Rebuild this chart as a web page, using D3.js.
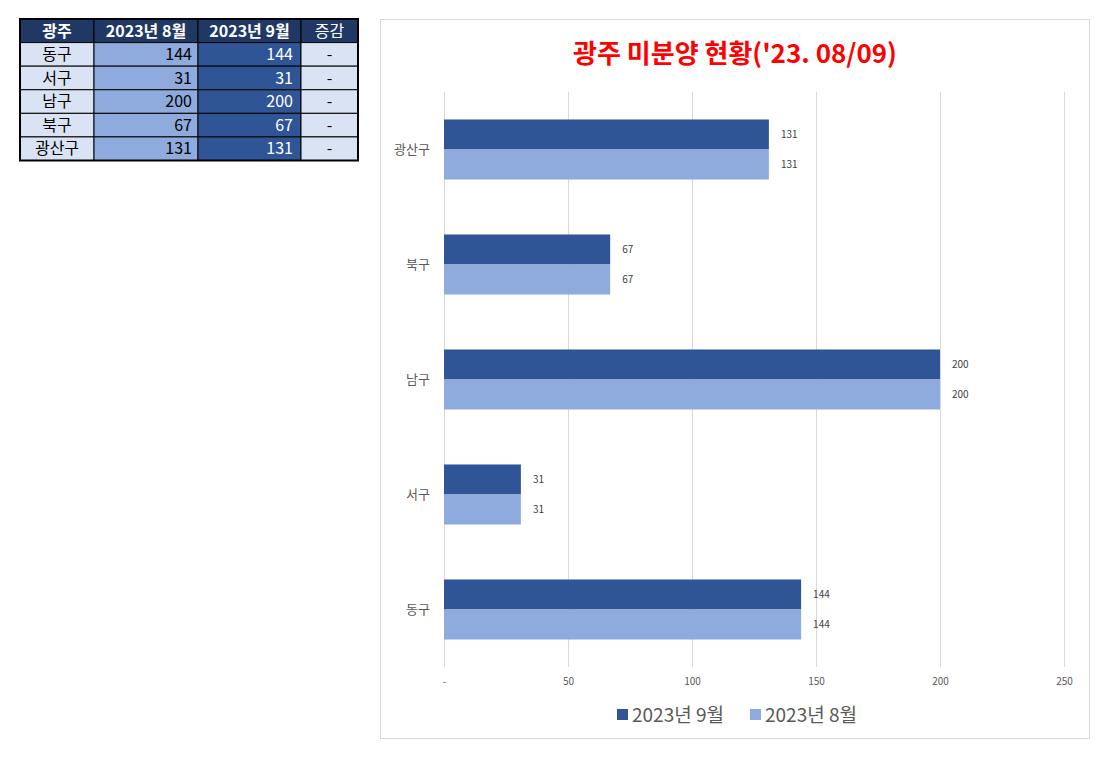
<!DOCTYPE html>
<html><head><meta charset="utf-8">
<script src="https://cdn.jsdelivr.net/npm/d3@7"></script>
<style>
body{margin:0;background:#fff;font-family:"Noto Sans CJK KR","Noto Sans",sans-serif;}
</style></head>
<body><svg id="c" width="1108" height="758"></svg>
<script>
const districts = ["동구","서구","남구","북구","광산구"];
const aug2023 = [144,31,200,67,131];
const sep2023 = [144,31,200,67,131];
const changes = ["-","-","-","-","-"];
const tableHeaders = ["광주","2023년 8월","2023년 9월","증감"];
const seriesNames = ["2023년 9월","2023년 8월"];
const xTicks = [0,50,100,150,200,250];
const titleText = "광주 미분양 현황('23. 08/09)";

const svg = d3.select("#c");
const font = '"Noto Sans CJK KR","Noto Sans",sans-serif';
const cSep = "#2f5597", cAug = "#8faadc", cHead = "#1f3864", cLight = "#dae3f3";

// ---- Table ----
const colX = [20,94,198,301,358];
const rowY = d3.scaleLinear().domain([0,6]).range([19,160.5]);
const tg = svg.append("g");
const rows = [tableHeaders].concat(districts.map((d,i)=>[d, aug2023[i], sep2023[i], changes[i]]));
rows.forEach((r,ri)=>{
  r.forEach((v,ci)=>{
    const x0=colX[ci], x1=colX[ci+1], y0=rowY(ri), y1=rowY(ri+1);
    let fill, color="#000", weight="normal", anchor="middle", tx=(x0+x1)/2;
    if(ri===0){fill=cHead;color="#fff";weight= ci===3?"normal":"bold";}
    else if(ci===1){fill=cAug;anchor="end";tx=x1-6;}
    else if(ci===2){fill=cSep;color="#fff";anchor="end";tx=x1-8;}
    else fill=cLight;
    tg.append("rect").attr("x",x0).attr("y",y0).attr("width",x1-x0).attr("height",y1-y0)
      .attr("fill",fill).attr("stroke","#000").attr("stroke-width",1);
    tg.append("text").attr("x",tx).attr("y",(y0+y1)/2).attr("dy","0.36em")
      .attr("text-anchor",anchor).attr("font-family",font).attr("font-size",16)
      .attr("font-weight",weight).attr("fill",color).text(v);
  });
});
tg.append("rect").attr("x",20).attr("y",19).attr("width",338).attr("height",141.5)
  .attr("fill","none").attr("stroke","#000").attr("stroke-width",2);

// ---- Chart ----
svg.append("rect").attr("x",380.5).attr("y",19.5).attr("width",709).attr("height",719)
  .attr("fill","#fff").attr("stroke","#d9d9d9");
svg.append("text").attr("x",735).attr("y",63).attr("text-anchor","middle")
  .attr("font-family",font).attr("font-size",26).attr("font-weight","bold").attr("fill","#ff0000")
  .text(titleText);

const x = d3.scaleLinear().domain([0,250]).range([444,1064]);
const y = d3.scaleBand().domain(districts.slice().reverse()).range([92,667]).paddingInner(0.478).paddingOuter(0.239);
const ySub = d3.scaleBand().domain(seriesNames).range([0,y.bandwidth()]);

svg.append("g").selectAll("line").data(xTicks).join("line")
  .attr("x1",d=>x(d)+0.5).attr("x2",d=>x(d)+0.5).attr("y1",92).attr("y2",667)
  .attr("stroke","#d9d9d9").attr("stroke-width",1);

const xAxis = d3.axisBottom(x).tickValues(xTicks).tickSize(0).tickFormat(d=>d===0?"-":d);
const xa = svg.append("g").attr("transform","translate(0,675)").call(xAxis);
xa.select(".domain").remove();
xa.selectAll("text").attr("font-family",font).attr("font-size",10).attr("fill","#595959");

const yAxis = d3.axisLeft(y).tickSize(0).tickPadding(14);
const ya = svg.append("g").attr("transform","translate(444,0)").call(yAxis);
ya.select(".domain").remove();
ya.selectAll("text").attr("font-family",font).attr("font-size",13).attr("fill","#595959");

const series = [{name:seriesNames[0],vals:sep2023,color:cSep},{name:seriesNames[1],vals:aug2023,color:cAug}];
series.forEach(s=>{
  const g = svg.append("g");
  g.selectAll("rect").data(districts).join("rect")
    .attr("x",x(0)).attr("y",d=>y(d)+ySub(s.name))
    .attr("width",(d,i)=>x(s.vals[districts.indexOf(d)])-x(0))
    .attr("height",ySub.bandwidth()).attr("fill",s.color);
  g.selectAll("text").data(districts).join("text")
    .attr("x",d=>x(s.vals[districts.indexOf(d)])+12)
    .attr("y",d=>y(d)+ySub(s.name)+ySub.bandwidth()/2).attr("dy","0.36em")
    .attr("font-family",font).attr("font-size",10).attr("fill","#404040")
    .text(d=>s.vals[districts.indexOf(d)]);
});

// legend
const lg = svg.append("g");
const lx = [617,750];
series.forEach((s,i)=>{
  lg.append("rect").attr("x",lx[i]).attr("y",709).attr("width",11).attr("height",11).attr("fill",s.color);
  lg.append("text").attr("x",lx[i]+15).attr("y",715).attr("dy","0.36em")
    .attr("font-family",font).attr("font-size",19).attr("fill","#595959").text(s.name);
});
</script></body></html>
